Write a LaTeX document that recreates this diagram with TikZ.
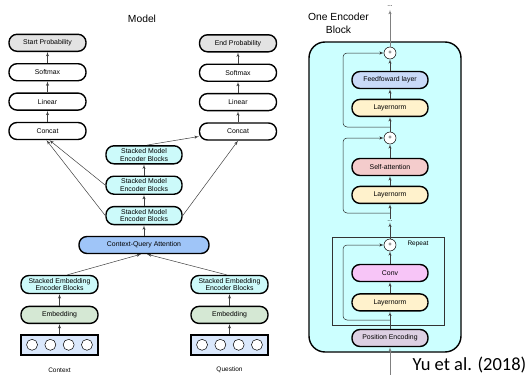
\documentclass[tikz,border=0pt]{standalone}
\usepackage{fontspec}
\setmainfont{Liberation Sans}
\newfontfamily\refcal{Carlito}
\usetikzlibrary{shapes,arrows,calc,positioning}
\definecolor{probgray}{HTML}{E3E3E3}
\definecolor{stackcyan}{HTML}{CCFAFA}
\definecolor{cqablue}{HTML}{9FC5F8}
\definecolor{embgreen}{HTML}{D5E8D4}
\definecolor{inblue}{HTML}{DAE8FC}
\definecolor{encbg}{HTML}{CCFFFF}
\definecolor{ffblue}{HTML}{C9DAF8}
\definecolor{lnyellow}{HTML}{FFF2CC}
\definecolor{sapink}{HTML}{F4CCCC}
\definecolor{convpink}{HTML}{F7C5F7}
\definecolor{pepurple}{HTML}{DDD0E3}
\tikzstyle{line} = [draw, line width=0.5pt, color=black!75, -latex']
\tikzstyle{res} = [draw, line width=0.5pt, color=black!85, rounded corners=4pt, -latex']
\tikzstyle{texto} = [font=\fontsize{6.5}{7}\selectfont]

\begin{document}
\begin{tikzpicture}[x=1pt,y=-1pt]
\tikzset{block/.style={rectangle, draw, line width=1.4pt, rounded corners=8pt, fill=white, minimum width=77pt, minimum height=17pt, inner sep=1pt, align=center, font=\fontsize{6.9}{7.8}\selectfont}}
\tikzset{block2/.style={block, minimum height=18pt}}
\tikzset{sum/.style={circle, draw, line width=0.5pt, fill=white, minimum size=12pt, inner sep=0pt, font=\fontsize{6}{6}\selectfont}}
\tikzset{dot/.style={circle, draw, line width=0.5pt, fill=white, minimum size=11pt, inner sep=0pt}}
\tikzset{inbox/.style={rectangle, draw, line width=1.4pt, fill=inblue, minimum width=77pt, minimum height=20pt}}
\tikzset{title/.style={align=center, font=\fontsize{10.3}{13}\selectfont}}

\useasboundingbox (0,0) rectangle (531,375);

%% model
\node [title] (model) at (142,19) {Model};

\node [block] (concatL) at (47.5,131) {Concat};
\node [block, above=11pt of concatL] (linL) {Linear};
\node [block, above=11pt of linL] (softL) {Softmax};
\node [block, fill=probgray, above=11pt of softL] (startP) {Start Probability};

\node [block] (concatR) at (238,131.5) {Concat};
\node [block, above=11pt of concatR] (linR) {Linear};
\node [block, above=11pt of linR] (softR) {Softmax};
\node [block, fill=probgray, above=11pt of softR] (endP) {End Probability};

\node [block, minimum width=130pt, fill=cqablue] (cqa) at (144,245) {Context-Query Attention};
\node [block2, fill=stackcyan, above=10.5pt of cqa, minimum width=76pt] (mod1) {Stacked Model\\Encoder Blocks};
\node [block2, fill=stackcyan, above=11pt of mod1, minimum width=76pt] (mod2) {Stacked Model\\Encoder Blocks};
\node [block2, fill=stackcyan, above=11pt of mod2, minimum width=76pt] (mod3) {Stacked Model\\Encoder Blocks};

\node [block2, fill=stackcyan] (embEncC) at (59.5,284.5) {Stacked Embedding\\Encoder Blocks};
\node [block, fill=embgreen, below=11.5pt of embEncC] (embC) {Embedding};
\node [inbox, below=10pt of embC] (inC) {};
\node [texto] (ctx) at (59.5,370) {Context};

\node [block2, fill=stackcyan] (embEncQ) at (229.5,284.5) {Stacked Embedding\\Encoder Blocks};
\node [block, fill=embgreen, below=11.5pt of embEncQ] (embQ) {Embedding};
\node [inbox, below=10pt of embQ] (inQ) {};
\node [texto] (qst) at (229.5,370) {Question};

\foreach \i/\n in {-1.5/1,-0.5/2,0.5/3,1.5/4} {
  \node [dot] (c\n) at ([xshift=\i*18.3pt]inC.center) {};
  \node [dot] (q\n) at ([xshift=\i*18.3pt]inQ.center) {};
}

\path [line] (inC) -- (embC);
\path [line] (embC) -- (embEncC);
\path [line] (inQ) -- (embQ);
\path [line] (embQ) -- (embEncQ);
\path [line] ([xshift=8pt]embEncC.north) -- ([xshift=-3pt]cqa.south);
\path [line] ([xshift=-3pt]embEncQ.north) -- ([xshift=3pt]cqa.south);
\path [line] (cqa) -- (mod1);
\path [line] (mod1) -- (mod2);
\path [line] (mod2) -- (mod3);

\path [line] (mod2.west) -- ([xshift=2pt]concatL.south);
\path [line] (mod1.west) -- ([xshift=-1pt]concatL.south);
\path [line] ([xshift=3pt]mod3.north) -- ([yshift=-5pt]concatR.west);
\path [line] (mod1.east) -- (concatR.south);

\path [line] (concatL) -- (linL);
\path [line] (linL) -- (softL);
\path [line] (softL) -- (startP);
\path [line] (concatR) -- (linR);
\path [line] (linR) -- (softR);
\path [line] (softR) -- (endP);

%% one encoder block
\node [title] (enctitle) at (338.5,23.5) {One Encoder\\Block};
\node [draw, line width=1.4pt, rounded corners=16pt, fill=encbg, minimum width=152pt, minimum height=310pt] (encbox) at (385,197) {};
\node [draw=black!80, line width=1pt, minimum width=112pt, minimum height=88pt] (rep) at (388,281) {};
\node [texto] (replabel) at (418,244) {Repeat};

\node [texto] (topdots) at (390,6) {...};
\node [sum] (plus1) at (390,53) {+};
\node [block, fill=ffblue, minimum width=76pt] (ff) at (390,80) {Feedfoward layer};
\node [block, fill=lnyellow, minimum width=76pt, below=9.5pt of ff] (ln1) {Layernorm};
\node [sum] (plus2) at (390,138) {+};
\node [block, fill=sapink, minimum width=76pt] (sa) at (390,167) {Self-attention};
\node [block, fill=lnyellow, minimum width=76pt, below=9.5pt of sa] (ln2) {Layernorm};
\node [texto, inner sep=1pt] (dots) at (390,221) {...};
\node [sum] (plus3) at (390,245) {+};
\node [block, fill=convpink, minimum width=76pt] (conv) at (390,273) {Conv};
\node [block, fill=lnyellow, minimum width=76pt, below=11pt of conv] (ln3) {Layernorm};
\node [block, fill=pepurple, minimum width=76pt] (pe) at (390,338) {Position Encoding};
\coordinate (in) at (390,375);

\coordinate (res1) at (390,127);
\coordinate (res2) at (390,213);
\coordinate (res3) at (390,320);

\path [line, color=black!50] (in) -- (pe);
\path [line] (pe) -- (ln3);
\path [line] (ln3) -- (conv);
\path [line] (conv) -- (plus3);
\path [line] (plus3) -- (dots);
\path [line] (dots) -- (ln2);
\path [line] (ln2) -- (sa);
\path [line] (sa) -- (plus2);
\path [line] (plus2) -- (ln1);
\path [line] (ln1) -- (ff);
\path [line] (ff) -- (plus1);
\path [line, color=black!50] (plus1) -- (topdots);

\path [res] (res1) -| ([xshift=-47pt]plus1.center) -- (plus1.west);
\path [res] (res2) -| ([xshift=-47pt]plus2.center) -- (plus2.west);
\path [res] (res3) -| ([xshift=-47pt]plus3.center) -- (plus3.west);

\node [font=\refcal\fontsize{18.5}{20}\selectfont] (cite) at (469.5,365) {Yu et al. (2018)};
\end{tikzpicture}
\end{document}
